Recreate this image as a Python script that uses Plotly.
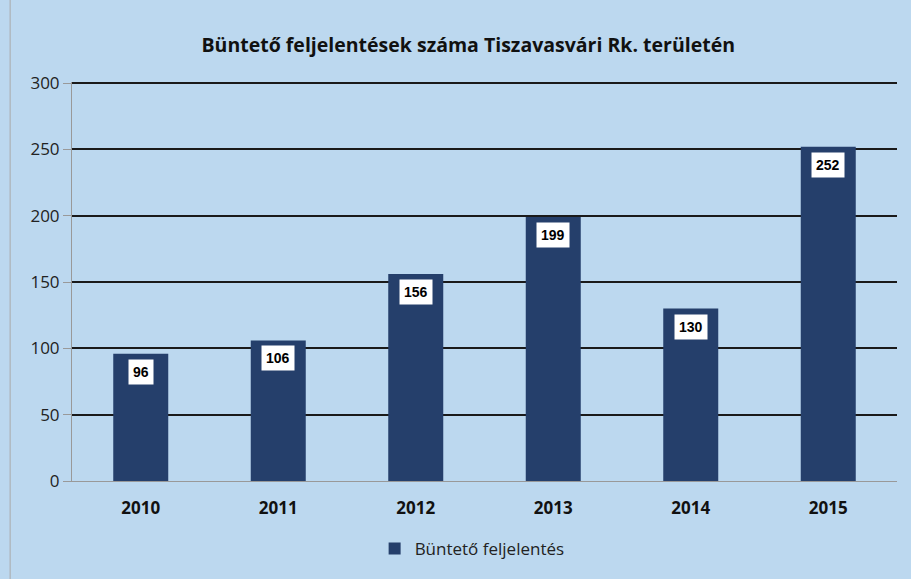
import plotly.graph_objects as go

years = ["2010", "2011", "2012", "2013", "2014", "2015"]
values = [96, 106, 156, 199, 130, 252]
series_name = "Büntető feljelentés"
title = "Büntető feljelentések száma Tiszavasvári Rk. területén"

bg = "#bcd8ef"
bar_color = "#253f6b"
font = "Open Sans"

fig = go.Figure()
fig.add_trace(go.Bar(x=years, y=values, name=series_name, marker_color=bar_color,
                     marker_line_width=0, showlegend=True))

for i, v in enumerate(values):
    fig.add_annotation(x=i, y=v, text="<b>%d</b>" % v, showarrow=False, yshift=-18,
                       bgcolor="white", font=dict(family="Arial", size=14, color="black"),
                       borderpad=4)

fig.update_layout(
    width=911, height=579,
    paper_bgcolor=bg, plot_bgcolor=bg,
    margin=dict(l=72, r=14, t=82, b=98, autoexpand=False),
    bargap=0.6,
    title=dict(text="<b>" + title + "</b>", x=0.514, xanchor="center", y=0.922, yanchor="middle",
               font=dict(family=font, size=19.5, color="#111")),
    font=dict(family=font, color="#222"),
    xaxis=dict(type="category", range=[-0.5, len(years) - 0.5], showgrid=False,
               showline=True, linecolor="#999", linewidth=1,
               tickmode="array", tickvals=years, ticktext=["<b>%s</b>" % y for y in years],
               tickfont=dict(size=17, color="#111"), ticks="outside", ticklen=12,
               tickcolor="rgba(0,0,0,0)"),
    yaxis=dict(range=[0, 300.8], tickvals=[0, 50, 100, 150, 200, 250, 300], showgrid=True,
               gridcolor="#1a1a1a", gridwidth=1.5,
               showline=True, linecolor="#999", linewidth=1, ticks="outside", ticklen=8,
               tickcolor="#999", tickfont=dict(size=17, color="#222"), zeroline=False),
    legend=dict(orientation="h", x=0.485, xanchor="center", y=-0.125, yanchor="top",
                font=dict(size=17, color="#222"), bgcolor="rgba(0,0,0,0)"),
)
fig.add_shape(type="line", xref="paper", yref="paper", x0=-0.075, x1=-0.075, y0=-0.3, y1=1.3,
              line=dict(color="#aaa", width=1))

fig.write_html("out.html", config={"displayModeBar": False},
               post_script="document.body.style.margin='0';")
